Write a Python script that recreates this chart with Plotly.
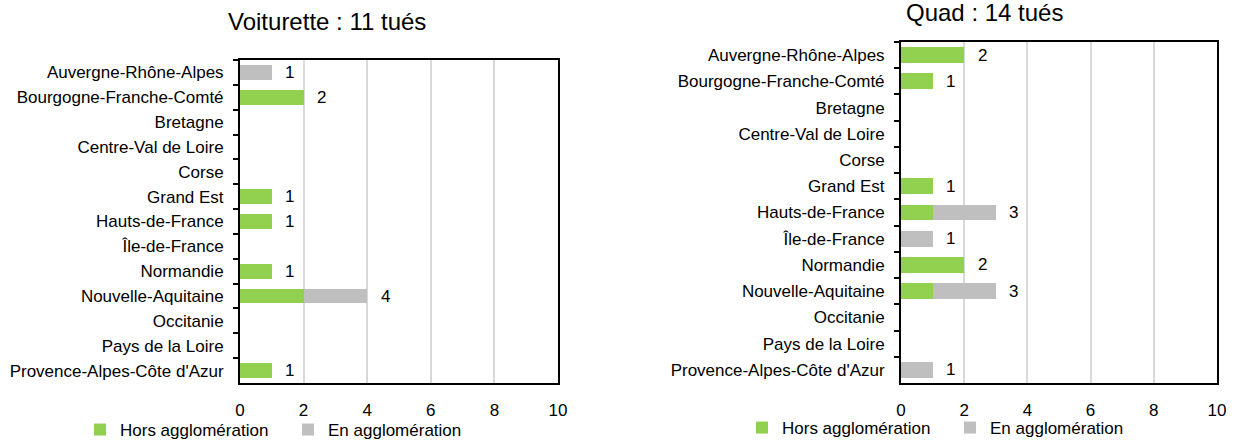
import plotly.graph_objects as go

# Régions (ordre d'affichage, de haut en bas)
regions = [
    "Auvergne-Rhône-Alpes", "Bourgogne-Franche-Comté", "Bretagne",
    "Centre-Val de Loire", "Corse", "Grand Est", "Hauts-de-France",
    "Île-de-France", "Normandie", "Nouvelle-Aquitaine", "Occitanie",
    "Pays de la Loire", "Provence-Alpes-Côte d'Azur",
]

# Voiturette : 11 tués
voit_hors = [0, 2, 0, 0, 0, 1, 1, 0, 1, 2, 0, 0, 1]
voit_en = [1, 0, 0, 0, 0, 0, 0, 0, 0, 2, 0, 0, 0]

# Quad : 14 tués
quad_hors = [2, 1, 0, 0, 0, 1, 1, 0, 2, 1, 0, 0, 0]
quad_en = [0, 0, 0, 0, 0, 0, 2, 1, 0, 2, 0, 0, 1]

x_ticks = [0, 2, 4, 6, 8, 10]

GREEN = "#92D050"
GREY = "#BFBFBF"
FONT = "Liberation Sans, Arial, sans-serif"
W, H = 1235, 441

fig = go.Figure()

panels = [
    ("x", "y", "legend", voit_hors, voit_en, "Voiturette : " + str(sum(voit_hors) + sum(voit_en)) + " tués"),
    ("x2", "y2", "legend2", quad_hors, quad_en, "Quad : " + str(sum(quad_hors) + sum(quad_en)) + " tués"),
]

for xa, ya, leg, hors, en, title in panels:
    fig.add_trace(go.Bar(
        y=regions, x=hors, orientation="h", name="Hors agglomération",
        marker=dict(color=GREEN, line=dict(width=0)),
        xaxis=xa, yaxis=ya, legend=leg, hoverinfo="x+y",
    ))
    fig.add_trace(go.Bar(
        y=regions, x=en, orientation="h", name="En agglomération",
        marker=dict(color=GREY, line=dict(width=0)),
        xaxis=xa, yaxis=ya, legend=leg, hoverinfo="x+y",
    ))
    # étiquettes des totaux à droite des barres
    for r, h, e in zip(regions, hors, en):
        total = h + e
        if total > 0:
            fig.add_annotation(
                x=total, y=r, xref=xa, yref=ya, text=str(total),
                showarrow=False, xanchor="center", yanchor="middle",
                xshift=18, font=dict(family=FONT, size=17, color="#000"),
            )

axis_x = dict(
    range=[0, 10], tickvals=x_ticks, showgrid=True, gridcolor="#D9D9D9",
    gridwidth=1.5, zeroline=False, showline=True, linecolor="#000",
    linewidth=1.5, mirror=True, ticks="", ticklabelstandoff=11,
    tickfont=dict(family=FONT, size=17, color="#000"), fixedrange=True,
    automargin=False,
)
axis_y = dict(
    categoryorder="array", categoryarray=regions, autorange="reversed",
    showgrid=False, showline=True, linecolor="#000", linewidth=2,
    mirror=True, ticks="outside", tickson="boundaries", ticklen=5,
    tickwidth=1.5, tickcolor="#000", ticklabelstandoff=11,
    tickfont=dict(family=FONT, size=17, color="#000"), fixedrange=True,
    automargin=False,
)

fig.update_layout(
    width=W, height=H,
    margin=dict(l=0, r=0, t=0, b=0, autoexpand=False),
    paper_bgcolor="white", plot_bgcolor="white",
    barmode="stack", bargap=0.4,
    font=dict(family=FONT, size=17, color="#000"),
    xaxis=dict(axis_x, domain=[240 / W, 558 / W], anchor="y"),
    yaxis=dict(axis_y, domain=[1 - 383 / H, 1 - 60 / H], anchor="x"),
    xaxis2=dict(axis_x, domain=[901 / W, 1217 / W], anchor="y2"),
    yaxis2=dict(axis_y, domain=[1 - 383 / H, 1 - 42 / H], anchor="x2"),
    legend=dict(
        orientation="h", x=80 / W, xanchor="left", y=1 - 430 / H,
        yanchor="middle", bgcolor="rgba(0,0,0,0)", entrywidth=163,
        font=dict(family=FONT, size=17, color="#000"), traceorder="normal",
    ),
    legend2=dict(
        orientation="h", x=742 / W, xanchor="left", y=1 - 428 / H,
        yanchor="middle", bgcolor="rgba(0,0,0,0)", entrywidth=163,
        font=dict(family=FONT, size=17, color="#000"), traceorder="normal",
    ),
    showlegend=True,
)

fig.add_annotation(text=panels[0][5], x=327 / W, y=1 - 22 / H, xref="paper",
                   yref="paper", showarrow=False, xanchor="center",
                   yanchor="middle", font=dict(family=FONT, size=24, color="#000"))
fig.add_annotation(text=panels[1][5], x=984 / W, y=1 - 13 / H, xref="paper",
                   yref="paper", showarrow=False, xanchor="center",
                   yanchor="middle", font=dict(family=FONT, size=24, color="#000"))

fig.write_html("out.html")
